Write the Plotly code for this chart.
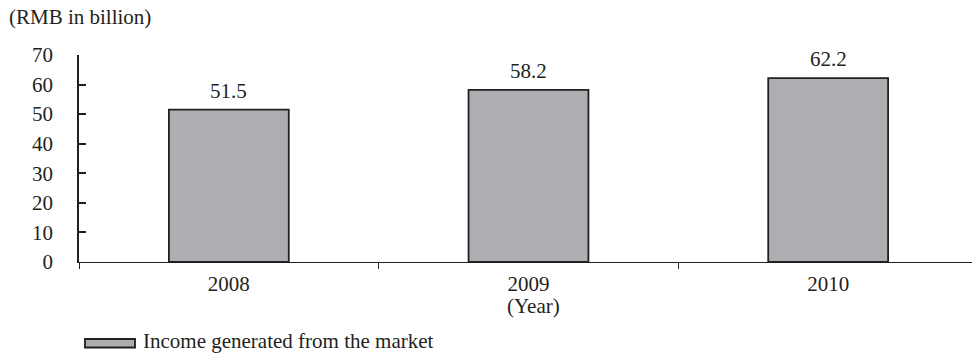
import plotly.graph_objects as go

years = ["2008", "2009", "2010"]
income = [51.5, 58.2, 62.2]
y_ticks = [0, 10, 20, 30, 40, 50, 60, 70]
series_name = "Income generated from the market"
unit_label = "(RMB in billion)"
x_label = "(Year)"

FONT = "Liberation Serif"
FS = 21
BAR_FILL = "#adaeb2"
LINE = "#231f20"

W, H = 972, 353
L, R, T, B = 79, 0, 55, 91
PW, PH = W - L - R, H - T - B


def px_x(x):
    return (x - L) / PW


def px_y(y):
    return (H - B - y) / PH


fig = go.Figure()
fig.add_trace(go.Bar(
    x=years,
    y=income,
    width=0.40,
    marker=dict(color=BAR_FILL, line=dict(color=LINE, width=1.8)),
    showlegend=False,
))

# value labels above each bar (category axis positions are indices)
for i, v in enumerate(income):
    fig.add_annotation(
        x=i, y=v, xref="x", yref="y",
        text=f"{v:.1f}", showarrow=False,
        xanchor="center", yanchor="bottom", yshift=5,
        font=dict(family=FONT, size=FS, color=LINE),
    )

fig.update_layout(
    width=W,
    height=H,
    margin=dict(l=L, r=R, t=T, b=B),
    paper_bgcolor="white",
    plot_bgcolor="white",
    font=dict(family=FONT, size=FS, color=LINE),
)

fig.update_xaxes(
    type="category",
    categoryorder="array",
    categoryarray=years,
    range=[-0.5, 2.48],
    showline=True,
    linecolor=LINE,
    linewidth=1.4,
    ticks="outside",
    tickson="boundaries",
    ticklen=6,
    tickwidth=1.2,
    tickcolor=LINE,
    showgrid=False,
    tickangle=0,
    ticklabelstandoff=3,
    tickfont=dict(family=FONT, size=FS, color=LINE),
)
fig.update_yaxes(
    range=[0, 70],
    tickvals=y_ticks,
    showline=True,
    linecolor=LINE,
    linewidth=1.8,
    ticks="inside",
    ticklen=7,
    tickcolor=LINE,
    tickwidth=1.8,
    showgrid=False,
    zeroline=False,
    tickfont=dict(family=FONT, size=FS, color=LINE),
    ticklabelstandoff=20,
)

# unit label above the plot
fig.add_annotation(
    text=unit_label, xref="paper", yref="paper",
    x=px_x(7), y=px_y(17), xanchor="left", yanchor="middle",
    showarrow=False, font=dict(family=FONT, size=FS, color=LINE),
)
# axis caption below the middle category
fig.add_annotation(
    text=x_label, xref="paper", yref="paper",
    x=px_x(533), y=px_y(306), xanchor="center", yanchor="middle",
    showarrow=False, font=dict(family=FONT, size=FS, color=LINE),
)

# legend: wide swatch with label
fig.add_shape(
    type="rect", xref="paper", yref="paper",
    x0=px_x(85), x1=px_x(135),
    y0=px_y(347.5), y1=px_y(339),
    fillcolor=BAR_FILL, line=dict(color=LINE, width=1.8),
)
fig.add_annotation(
    text=series_name, xref="paper", yref="paper",
    x=px_x(141), y=px_y(341), xanchor="left", yanchor="middle",
    showarrow=False, font=dict(family=FONT, size=FS, color=LINE),
)

fig.write_html("out.html")
